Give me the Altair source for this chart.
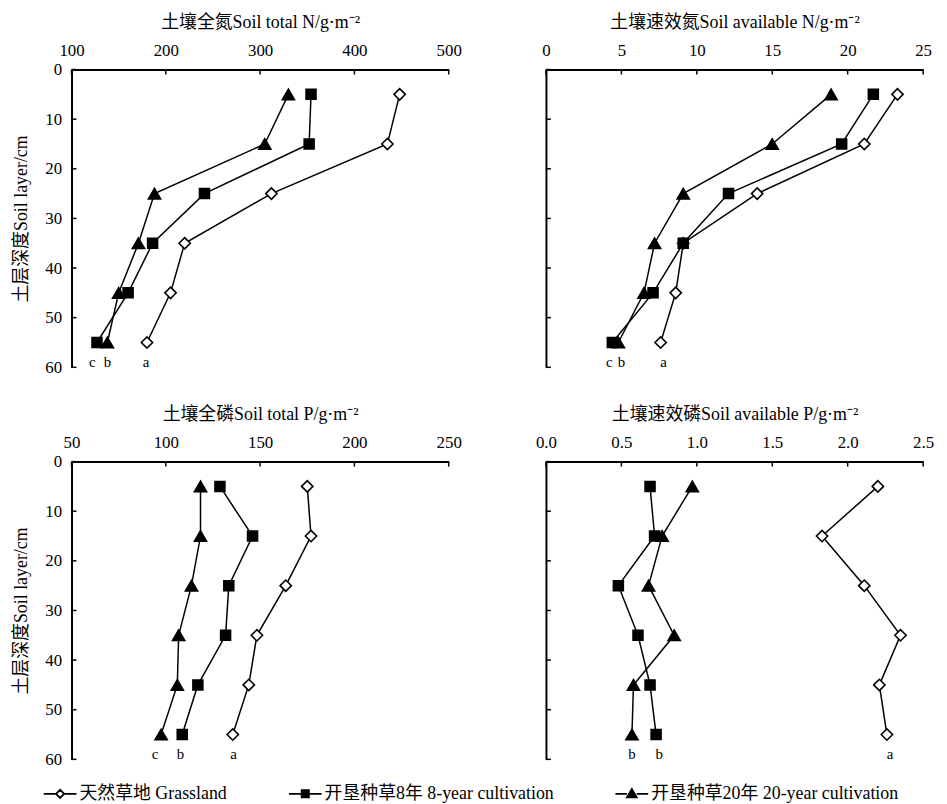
import altair as alt
import pandas as pd

depth = [5, 15, 25, 35, 45, 55]
series_names = ["天然草地 Grassland", "开垦种草8年 8-year cultivation", "开垦种草20年 20-year cultivation"]

tn_grass = [448, 435, 312, 220, 205, 180]
tn_8 = [354, 352, 241, 186, 160, 127]
tn_20 = [330, 305, 188, 171, 150, 138]

an_grass = [23.3, 21.1, 14.0, 9.1, 8.6, 7.6]
an_8 = [21.7, 19.6, 12.1, 9.1, 7.1, 4.4]
an_20 = [18.9, 15.0, 9.1, 7.2, 6.5, 4.8]

tp_grass = [175, 177, 163.6, 148.3, 144, 135.5]
tp_8 = [128.7, 146, 133.4, 131.7, 117, 108.7]
tp_20 = [118.4, 118.4, 113.6, 106.8, 106.1, 97.5]

ap_grass = [2.20, 1.83, 2.11, 2.35, 2.21, 2.26]
ap_8 = [0.69, 0.72, 0.48, 0.61, 0.69, 0.73]
ap_20 = [0.97, 0.77, 0.68, 0.85, 0.58, 0.57]

tn_letters = ["c", "b", "a"]
tn_letter_x = [122, 138, 179]
an_letters = ["c", "b", "a"]
an_letter_x = [4.2, 5.0, 7.8]
tp_letters = ["c", "b", "a"]
tp_letter_x = [94.3, 107.8, 135.9]
ap_letters = ["b", "b", "a"]
ap_letter_x = [0.57, 0.75, 2.28]
letter_depth = 59

depth_ticks = [0, 10, 20, 30, 40, 50, 60]

SERIF = "Liberation Serif, Noto Sans CJK SC"
marker_shapes = ["diamond", "square", "triangle-up"]
marker_fills = ["white", "black", "black"]
marker_strokes = ["black", "black", "black"]
marker_sizes = [130, 100, 150]
legend_paths = [
    "M-1,0H-0.25M0.25,0H1M-0.25,0L0,-0.25L0.25,0L0,0.25Z",
    "M-1,0H-0.22M0.22,0H1M-0.22,-0.22H0.22V0.22H-0.22Z",
    "M-1,0H-0.3M0.3,0H1M-0.3,0.22L0,-0.3L0.3,0.22Z",
]


def panel(title, values, domain, xticks, fmt, letters, letter_x, left, with_legend=False):
    xscale = alt.Scale(domain=domain, nice=False, zero=False)
    yscale = alt.Scale(domain=[0, 60], reverse=True, nice=False)
    xaxis = alt.Axis(orient="top", title=title, values=xticks, format=fmt, ticks=False,
                     grid=False, labelFlush=False, labelPadding=10, titlePadding=10)
    if left:
        yaxis = alt.Axis(title="土层深度Soil layer/cm", values=depth_ticks, ticks=False, grid=False,
                         labelFlush=False, labelPadding=10, titlePadding=14)
    else:
        yaxis = alt.Axis(title=None, values=depth_ticks, ticks=False, grid=False, labels=False)

    layers = []
    for name, vals, shp, fil, sz in zip(series_names, values, marker_shapes, marker_fills, marker_sizes):
        df = pd.DataFrame({"depth": depth, "value": vals})
        base = alt.Chart(df)
        layers.append(base.mark_line(color="black", strokeWidth=1.5).encode(
            x=alt.X("value:Q", scale=xscale, axis=xaxis),
            y=alt.Y("depth:Q", scale=yscale, axis=yaxis),
            order="depth:Q"))
        layers.append(base.mark_point(shape=shp, fill=fil, stroke="black", strokeWidth=1.6,
                                      filled=True, opacity=1, size=sz).encode(
            x=alt.X("value:Q", scale=xscale), y=alt.Y("depth:Q", scale=yscale)))

    xt = pd.DataFrame({"t": xticks})
    layers.append(alt.Chart(xt).mark_rule(color="black", strokeWidth=1.5).encode(
        x=alt.X("t:Q", scale=xscale), y=alt.value(0), y2=alt.value(5)))
    yt = pd.DataFrame({"t": depth_ticks})
    layers.append(alt.Chart(yt).mark_rule(color="black", strokeWidth=1.5).encode(
        y=alt.Y("t:Q", scale=yscale), x=alt.value(0), x2=alt.value(5)))

    lt = pd.DataFrame({"x": letter_x, "label": letters, "d": [letter_depth] * len(letters)})
    layers.append(alt.Chart(lt).mark_text(font="Liberation Serif", fontSize=15, color="black",
                                          baseline="middle").encode(
        x=alt.X("x:Q", scale=xscale), y=alt.Y("d:Q", scale=yscale), text="label:N"))

    if with_legend:
        leg = pd.DataFrame({"series": series_names})
        legend = alt.Legend(orient="none", legendX=-29, legendY=712, direction="horizontal",
                            title=None, symbolSize=1089, symbolStrokeWidth=1.8,
                            labelFont=SERIF, labelFontSize=18, labelLimit=400,
                            labelColor="black", labelOffset=2, columnPadding=58,
                            symbolOpacity=1)
        layers.append(alt.Chart(leg).transform_filter("false").mark_point(
            filled=False, opacity=1, strokeWidth=1.5).encode(
            shape=alt.Shape("series:N", scale=alt.Scale(domain=series_names, range=legend_paths),
                            legend=legend),
            fill=alt.Fill("series:N", scale=alt.Scale(domain=series_names, range=marker_fills),
                          legend=legend),
            stroke=alt.Stroke("series:N", scale=alt.Scale(domain=series_names, range=marker_strokes),
                              legend=legend)))

    return alt.layer(*layers).properties(width=380, height=300)


p1 = panel("土壤全氮Soil total N/g·m⁻²", [tn_grass, tn_8, tn_20], [100, 500],
           [100, 200, 300, 400, 500], "d", tn_letters, tn_letter_x, True, with_legend=True)
p2 = panel("土壤速效氮Soil available N/g·m⁻²", [an_grass, an_8, an_20], [0, 25],
           [0, 5, 10, 15, 20, 25], "d", an_letters, an_letter_x, False)
p3 = panel("土壤全磷Soil total P/g·m⁻²", [tp_grass, tp_8, tp_20], [50, 250],
           [50, 100, 150, 200, 250], "d", tp_letters, tp_letter_x, True)
p4 = panel("土壤速效磷Soil available P/g·m⁻²", [ap_grass, ap_8, ap_20], [0, 2.5],
           [0, 0.5, 1.0, 1.5, 2.0, 2.5], ".1f", ap_letters, ap_letter_x, False)

chart = alt.concat(
    p1, p2, p3, p4, columns=2,
    spacing=alt.RowColnumber(row=95, column=98),
).properties(
    bounds="flush",
    padding={"left": 5, "top": 3, "right": 5, "bottom": 0},
    background="white",
).configure_view(stroke=None).configure_axis(
    domainColor="black", domainWidth=2, labelColor="black", labelFont=SERIF, labelFontSize=17,
    titleFont=SERIF, titleFontSize=18, titleFontWeight="normal", titleColor="black",
    labelOverlap=False,
)

chart.save("out.html", embed_options={"renderer": "svg", "actions": False})
